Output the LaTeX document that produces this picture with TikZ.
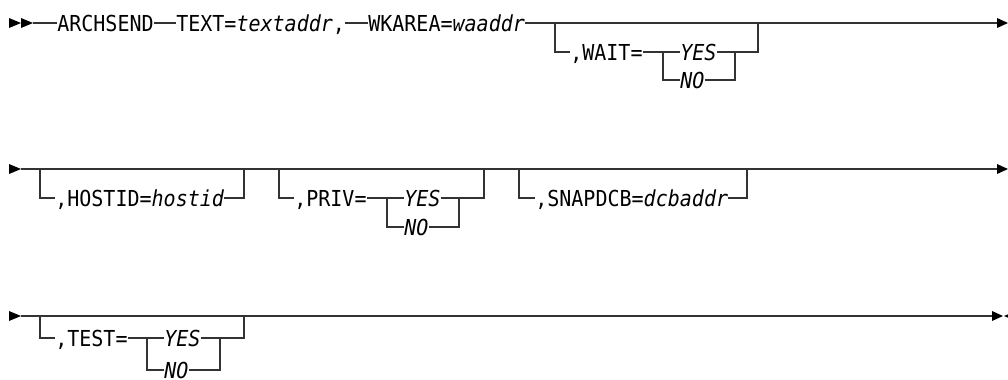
\documentclass[tikz,border=0pt]{standalone}
\usepackage{fontspec}
\newfontfamily\railfont[FakeStretch=0.91]{DejaVu Sans Mono}
\usetikzlibrary{positioning, calc}
\definecolor{railgray}{HTML}{333333}

\begin{document}
\begin{tikzpicture}[x=0.75pt, y=-0.75pt,
    rail/.style={draw=railgray, line width=0.9pt},
    word/.style={font=\railfont\fontsize{16.5}{20}\selectfont, anchor=west, inner sep=0pt, text height=12pt, text depth=0pt}]
  \useasboundingbox (0,0) rectangle (1008,379);

  % Punteros de inicio y fin
  \foreach \x in {9,21} {
    \fill (\x,18) -- (\x+12,23) -- (\x,28) -- cycle;
  }
  \foreach \y in {169,316} {
    \fill (9,\y-5) -- (21,\y) -- (9,\y+5) -- cycle;
  }
  \foreach \y in {23,169} {
    \fill (997,\y-5) -- (1008,\y) -- (997,\y+5) -- cycle;
  }
  \fill (992,311) -- (1003,316) -- (992,321) -- cycle;
  \fill (1004,316) -- (1016,311) -- (1016,321) -- cycle;

  % Fila 1
  \coordinate (s1) at (33,23);
  \coordinate (c1) at (345,23);
  \coordinate (e1) at (997,23);
  \node[word] (arch) at (57,23) {ARCHSEND};
  \node[word] (text) at (176,23) {TEXT=\textit{textaddr},};
  \node[word] (wkarea) at (368,23) {WKAREA=\textit{waaddr}};
  \draw[rail] (s1) -- (arch.west) (arch.east) -- (text.west) (c1) -- (wkarea.west) (wkarea.east) -- (e1);
  % WAIT
  \coordinate (w0) at (555,23);
  \coordinate (wj) at (663,52);
  \coordinate (wk) at (735,52);
  \coordinate (w1) at (758,23);
  \node[word] (wait) at (570,52) {,WAIT=};
  \node[word] (waityes) at (680,52) {\textit{YES}};
  \node[word] (waitno) at (680,80) {\textit{NO}};
  \draw[rail] (w0) |- (wait.west) (wait.east) -- (wj) -- (waityes.west) (waityes.east) -| (w1);
  \draw[rail] (wj) |- (waitno.west) (waitno.east) -| (wk);

  % Fila 2
  \coordinate (s2) at (21,169);
  \coordinate (e2) at (997,169);
  \draw[rail] (s2) -- (e2);
  % HOSTID
  \coordinate (h0) at (40,169);
  \coordinate (h1) at (244,169);
  \node[word] (hostid) at (55,198) {,HOSTID=\textit{hostid}};
  \draw[rail] (h0) |- (hostid.west) (hostid.east) -| (h1);
  % PRIV
  \coordinate (p0) at (279,169);
  \coordinate (pj) at (387,198);
  \coordinate (pk) at (459,198);
  \coordinate (p1) at (484,169);
  \node[word] (priv) at (294,198) {,PRIV=};
  \node[word] (privyes) at (404,198) {\textit{YES}};
  \node[word] (privno) at (404,227) {\textit{NO}};
  \draw[rail] (p0) |- (priv.west) (priv.east) -- (pj) -- (privyes.west) (privyes.east) -| (p1);
  \draw[rail] (pj) |- (privno.west) (privno.east) -| (pk);
  % SNAPDCB
  \coordinate (n0) at (519,169);
  \coordinate (n1) at (747,169);
  \node[word] (snap) at (535,198) {,SNAPDCB=\textit{dcbaddr}};
  \draw[rail] (n0) |- (snap.west) (snap.east) -| (n1);

  % Fila 3
  \coordinate (s3) at (21,316);
  \coordinate (e3) at (992,316);
  \draw[rail] (s3) -- (e3);
  \draw[rail, line width=1.3pt] (250,315.7) -- (273,315.7);
  % TEST
  \coordinate (q0) at (40,316);
  \coordinate (qj) at (147,338);
  \coordinate (qk) at (220,338);
  \coordinate (q1) at (244,316);
  \node[word] (test) at (55,338) {,TEST=};
  \node[word] (testyes) at (164,338) {\textit{YES}};
  \node[word] (testno) at (164,370) {\textit{NO}};
  \draw[rail] (q0) |- (test.west) (test.east) -- (qj) -- (testyes.west) (testyes.east) -| (q1);
  \draw[rail] (qj) |- (testno.west) (testno.east) -| (qk);
\end{tikzpicture}
\end{document}
